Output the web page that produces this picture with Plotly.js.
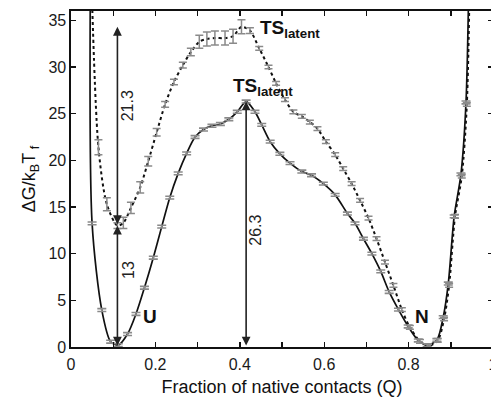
<!DOCTYPE html>
<html>
<head>
<meta charset="utf-8">
<script src="https://cdn.plot.ly/plotly-3.0.1.min.js"></script>
<style>
  html, body { margin: 0; padding: 0; overflow: hidden; background: #fff; }
  #chart { width: 500px; height: 398px; }
</style>
</head>
<body>
<div id="chart"></div>
<script>
// Free-energy profile along Q, native-state simulation (solid curve)
const qSolid = [0.050, 0.073, 0.094, 0.112, 0.134, 0.154, 0.174, 0.195, 0.215, 0.234,
                0.254, 0.274, 0.294, 0.314, 0.334, 0.354, 0.374, 0.394, 0.415, 0.436,
                0.452, 0.472, 0.495, 0.519, 0.547, 0.570, 0.598, 0.626, 0.655, 0.673,
                0.693, 0.713, 0.734, 0.754, 0.776, 0.799, 0.823, 0.844, 0.867, 0.882,
                0.894, 0.908, 0.924, 0.936];
const gSolid = [13.25, 3.96, 0.57, 0.2, 1.39, 3.54, 6.35, 9.57, 12.9, 16.0,
                18.6, 20.75, 22.5, 23.3, 23.7, 23.9, 24.4, 25.2, 26.3, 25.2,
                23.8, 22.0, 20.7, 19.7, 18.8, 18.4, 17.5, 16.3, 14.3, 13.25,
                11.6, 10.0, 8.1, 5.9, 4.0, 2.2, 0.7, 0.2, 0.75, 3.2,
                6.8, 14.0, 18.5, 26.2];
const eSolid = [0.15, 0.15, 0.15, 0.15, 0.15, 0.15, 0.15, 0.15, 0.15, 0.15,
                0.15, 0.15, 0.15, 0.15, 0.15, 0.15, 0.15, 0.15, 0.15, 0.15,
                0.15, 0.15, 0.15, 0.15, 0.15, 0.15, 0.15, 0.15, 0.15, 0.15,
                0.15, 0.15, 0.15, 0.15, 0.15, 0.15, 0.15, 0.15, 0.15, 0.15,
                0.15, 0.15, 0.15, 0.15];
// steep walls of the solid fit, continuing above the plotted range
const qSolidWall = [0.046, 0.943];
const gSolidWall = [40, 40];

// Profile with the latent intermediate (dotted curve)
const qDotted = [0.065, 0.085, 0.110, 0.124, 0.142, 0.164, 0.183, 0.203, 0.223, 0.244,
                 0.265, 0.284, 0.304, 0.322, 0.341, 0.365, 0.384, 0.404, 0.424, 0.446,
                 0.468, 0.486, 0.507, 0.527, 0.547, 0.566, 0.584, 0.604, 0.626, 0.645,
                 0.665, 0.685, 0.705, 0.724, 0.744, 0.764, 0.784, 0.803, 0.827, 0.846,
                 0.869, 0.884, 0.896, 0.910, 0.926, 0.938];
const gDotted = [21.4, 15.3, 13.0, 13.3, 14.9, 17.1, 19.9, 23.0, 26.0, 28.4,
                 30.2, 31.6, 32.7, 33.0, 33.1, 33.1, 33.3, 34.3, 33.9, 32.0,
                 30.0, 28.25, 26.5, 25.2, 24.7, 24.1, 23.4, 22.0, 20.6, 19.1,
                 17.5, 15.7, 13.8, 11.6, 9.1, 6.6, 4.0, 2.1, 0.6, 0.1,
                 0.7, 3.0, 6.6, 14.0, 18.3, 26.0];
const eDotted = [0.8, 0.7, 0.3, 0.6, 0.6, 0.6, 0.5, 0.4, 0.3, 0.3,
                 0.3, 0.4, 0.7, 0.75, 0.75, 0.75, 0.75, 0.75, 0.3, 0.2,
                 0.2, 0.2, 0.2, 0.2, 0.2, 0.2, 0.2, 0.2, 0.2, 0.2,
                 0.2, 0.2, 0.2, 0.2, 0.2, 0.2, 0.2, 0.2, 0.2, 0.2,
                 0.2, 0.2, 0.2, 0.2, 0.2, 0.2];
const qDottedWall = [0.048, 0.945];
const gDottedWall = [40, 40];

// Axis ticks
const xTickVals = [0, 0.2, 0.4, 0.6, 0.8, 1];
const xTickText = ['0', '0.2', '0.4', '0.6', '0.8', '1'];
const yTickVals = [0, 5, 10, 15, 20, 25, 30, 35];

// Landmarks: unfolded minimum, transition states
const iDotMin = 2;     // index of the dotted minimum
const iDotTS = 17;     // index of the dotted transition state
const iSolTS = 18;     // index of the solid transition state

const FONT = 'Liberation Sans, Arial, Helvetica, sans-serif';
const BAR = '#8a8a8a';

function lineOf(q, g, wq, wg) {
  return { q: [wq[0]].concat(q, [wq[1]]), g: [wg[0]].concat(g, [wg[1]]) };
}
const solidLine = lineOf(qSolid, gSolid, qSolidWall, gSolidWall);
const dottedLine = lineOf(qDotted, gDotted, qDottedWall, gDottedWall);

const traces = [
  { x: dottedLine.q, y: dottedLine.g, mode: 'lines', hoverinfo: 'skip',
    line: { color: '#111', width: 2, dash: 'dot', shape: 'spline', smoothing: 0.8 } },
  { x: solidLine.q, y: solidLine.g, mode: 'lines', hoverinfo: 'skip',
    line: { color: '#111', width: 1.7, shape: 'spline', smoothing: 0.8 } },
  { x: qDotted, y: gDotted, mode: 'markers', marker: { size: 1, color: 'rgba(0,0,0,0)' },
    error_y: { type: 'data', array: eDotted, visible: true, color: BAR, thickness: 1.5, width: 4 } },
  { x: qSolid, y: gSolid, mode: 'markers', marker: { size: 1, color: 'rgba(0,0,0,0)' },
    error_y: { type: 'data', array: eSolid, visible: true, color: BAR, thickness: 1.6, width: 4.5 } }
];

const qU = qDotted[iDotMin];
const gMinDot = gDotted[iDotMin];
const gTSDot = gDotted[iDotTS];
const qTS = qSolid[iSolTS];
const gTSSol = gSolid[iSolTS];

function arrow(x, y0, y1) {
  return { x: x, y: y1, ax: x, ay: y0, xref: 'x', yref: 'y', axref: 'x', ayref: 'y',
           text: '', showarrow: true, arrowhead: 2, startarrowhead: 2, arrowside: 'end+start',
           arrowsize: 1.1, startarrowsize: 1.1, arrowwidth: 1.6, arrowcolor: '#222',
           standoff: 0, startstandoff: 0 };
}
function vlabel(x, y, t) {
  return { x: x, y: y, xref: 'x', yref: 'y', text: t, showarrow: false, textangle: -90,
           font: { family: FONT, size: 16, color: '#222' } };
}
function bold(x, y, t, anchor) {
  return { x: x, y: y, xref: 'x', yref: 'y', text: t, showarrow: false,
           xanchor: anchor || 'center', yanchor: 'middle',
           font: { family: FONT, size: 19, color: '#111' } };
}

const annotations = [
  arrow(qU, 0, gMinDot),
  arrow(qU, gMinDot, gTSDot),
  arrow(qTS, 0, gTSSol),
  vlabel(0.133, 25.8, (gTSDot - gMinDot).toFixed(1)),
  vlabel(0.135, 8.25, gMinDot.toFixed(0)),
  vlabel(0.437, 12.5, gTSSol.toFixed(1)),
  bold(0.443, 34.1, '<b>TS<sub>latent</sub></b>', 'left'),
  bold(0.380, 27.9, '<b>TS<sub>latent</sub></b>', 'left'),
  bold(0.188, 3.25, '<b>U</b>'),
  bold(0.831, 3.25, '<b>N</b>')
];

const axisCommon = {
  showline: true, linecolor: '#111', linewidth: 1.6, mirror: 'ticks',
  ticks: 'inside', ticklen: 5, tickwidth: 1.4, tickcolor: '#111',
  showgrid: false, zeroline: false,
  tickfont: { family: FONT, size: 16, color: '#1a1a1a' }
};

const layout = {
  width: 500, height: 398,
  margin: { l: 71, r: 7, t: 11, b: 51 },
  paper_bgcolor: '#fff', plot_bgcolor: '#fff',
  showlegend: false,
  xaxis: Object.assign({}, axisCommon, {
    range: [0, 1], tickmode: 'array', tickvals: xTickVals, ticktext: xTickText,
    ticklabelstandoff: 2,
    minor: { tickmode: 'linear', tick0: 0, dtick: 0.1, ticks: 'inside', ticklen: 5,
             tickwidth: 1.4, tickcolor: '#111', showgrid: false },
    title: { text: 'Fraction of native contacts (Q)', standoff: 8,
             font: { family: FONT, size: 18, color: '#111' } }
  }),
  yaxis: Object.assign({}, axisCommon, {
    range: [0, 36], tickmode: 'array', tickvals: yTickVals,
    title: { text: 'ΔG/k<sub>B</sub>T<sub> f</sub>', standoff: 8,
             font: { family: FONT, size: 18, color: '#111' } }
  }),
  annotations: annotations
};

Plotly.newPlot('chart', traces, layout, { displayModeBar: false, staticPlot: true });
</script>
</body>
</html>
